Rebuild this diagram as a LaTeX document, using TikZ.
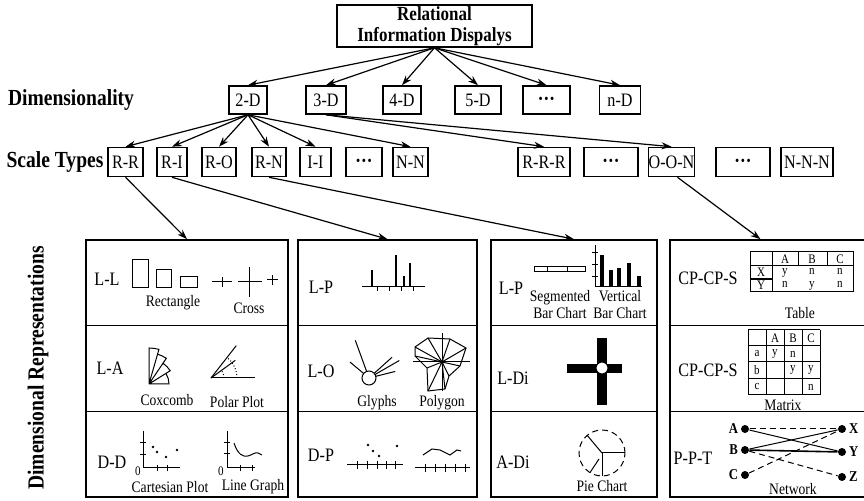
\documentclass[tikz,border=0pt]{standalone}
\usepackage{fontspec}
\setmainfont{Liberation Serif}[FakeStretch=0.85]
\usetikzlibrary{calc}
\usetikzlibrary{arrows.meta}

\newcommand{\boxwidth}{0.8pt}
\newcommand{\linkwidth}{0.6pt}
\newcommand{\sketchwidth}{0.5pt}
\newcommand{\moredots}{{\fontsize{7}{7}\selectfont\textbullet\hspace{0.8pt}\textbullet\hspace{0.8pt}\textbullet}}

\tikzset{
	levelbox/.style={draw, line width=\boxwidth, inner sep=0pt, minimum height=14pt,
		font=\fontsize{9.5}{10}\selectfont},
	headlabel/.style={font=\bfseries\fontsize{11.5}{12}\selectfont},
	kindlabel/.style={font=\fontsize{9.5}{10}\selectfont},
	caption/.style={font=\fontsize{8}{8.5}\selectfont, align=center},
	tiny/.style={font=\fontsize{6.5}{6.5}\selectfont, inner sep=0pt},
	reprbox/.style={draw, line width=\boxwidth, inner sep=0pt, minimum height=128.5pt},
	link/.style={line width=\linkwidth, -{Stealth[length=5pt,width=3.5pt]}},
	netdot/.style={circle, fill, inner sep=0pt, minimum size=4pt},
	netlabel/.style={font=\bfseries\fontsize{7.5}{8}\selectfont, inner sep=1pt},
}

\begin{document}
\begin{tikzpicture}[x=0.5pt, y=-0.5pt, line width=\sketchwidth]
	\useasboundingbox (0,0) rectangle (864,501);

	% hierarchy
	\node[draw, line width=\boxwidth, align=center, minimum width=97.5pt, minimum height=21pt,
		inner sep=0pt, font=\bfseries\fontsize{10}{10.5}\selectfont]
		(root) at (434.5,26) {Relational\\Information Dispalys};

	\node[headlabel] (dimlabel) at (71,100) {Dimensionality};
	\node[levelbox, minimum width=19pt] (d2) at (248,100) {2-D};
	\node[levelbox, minimum width=20pt] (d3) at (326,100) {3-D};
	\node[levelbox, minimum width=19pt] (d4) at (402,100) {4-D};
	\node[levelbox, minimum width=23pt] (d5) at (478,100) {5-D};
	\node[levelbox, minimum width=23.5pt] (ddots) at (546.5,100) {\moredots};
	\node[levelbox, minimum width=20.5pt] (dn) at (620,100) {n-D};

	\foreach \d in {d2,d3,d4,d5,ddots,dn}
		\draw[link] (root.south) -- (\d.north);

	\node[headlabel] (scalelabel) at (55,162) {Scale Types};
	\tikzset{levelbox/.append style={minimum height=14.5pt}}
	\node[levelbox, minimum width=17.5pt] (srr) at (125.5,162) {R-R};
	\node[levelbox, minimum width=15pt] (sri) at (172,162) {R-I};
	\node[levelbox, minimum width=17pt] (sro) at (219,162) {R-O};
	\node[levelbox, minimum width=17pt] (srn) at (269,162) {R-N};
	\node[levelbox, minimum width=15.5pt] (sii) at (315.5,162) {I-I};
	\node[levelbox, minimum width=18pt] (sdots) at (364,162) {\moredots};
	\node[levelbox, minimum width=17.5pt] (snn) at (410.5,162) {N-N};
	\node[levelbox, minimum width=26pt] (srrr) at (544,162) {R-R-R};
	\node[levelbox, minimum width=27pt] (sdotsb) at (611,162) {\moredots};
	\node[levelbox, minimum width=21.5pt] (soon) at (671.5,162) {O-O-N};
	\node[levelbox, minimum width=27pt] (sdotsc) at (743,162) {\moredots};
	\node[levelbox, minimum width=26pt] (snnn) at (807,162) {N-N-N};

	\foreach \s in {srr,sri,sro,srn,sii,snn}
		\draw[link] (d2.south) -- (\s.north);
	\draw[link] (d3.south) -- (srrr.north);
	\draw[link] (d3.south) -- (soon.north);

	% representation grid
	\node[headlabel, rotate=90] (replabel) at (38,368) {Dimensional Representations};
	\node[reprbox, minimum width=101pt] (colA) at (187,368.5) {};
	\node[reprbox, minimum width=89.5pt] (colB) at (387.5,368.5) {};
	\node[reprbox, minimum width=83pt] (colC) at (574,368.5) {};
	\node[reprbox, minimum width=98.5pt] (colD) at (768.5,368.5) {};
	\foreach \c in {colA,colB,colC,colD}
		\foreach \f in {1/3,2/3}
			\draw[line width=\boxwidth] ($(\c.north west)!\f!(\c.south west)$) -- ($(\c.north east)!\f!(\c.south east)$);

	\draw[link] (srr.south) -- (colA.north);
	\draw[link] (sri.south) -- (colB.north);
	\draw[link] (srn.south) -- (colC.north);
	\draw[link] ([xshift=3pt]soon.south) -- ([xshift=-4pt]colD.north);

	% column A
	\node[kindlabel] (ll) at (107,279) {L-L};
	\draw (132,260) rectangle (148,288);
	\draw (156,270) rectangle (171,288);
	\draw (180,277) rectangle (197,288);
	\node[caption] (rectcap) at (173,303) {Rectangle};
	\draw (212,282) -- (232,282) (222,277) -- (222,287);
	\draw (238,282) -- (262,282) (249,267) -- (249,297);
	\draw (267,280) -- (278,280) (272,275) -- (272,285);
	\node[caption] (crosscap) at (249,308) {Cross};

	\node[kindlabel] (la) at (110,368) {L-A};
	\begin{scope}[shift={(149,384)}, yscale=-1]
		\draw (0,0) -- (90:36) arc[start angle=90, end angle=74, radius=36] -- (0,0)
			-- (74:31) arc[start angle=74, end angle=56, radius=31] -- (0,0)
			-- (56:25) arc[start angle=56, end angle=32, radius=25] -- (0,0)
			-- (32:20) arc[start angle=32, end angle=0, radius=20] -- cycle;
	\end{scope}
	\node[caption] (coxcap) at (167,400) {Coxcomb};
	\begin{scope}[shift={(211,378)}, yscale=-1]
		\draw (0,0) -- (44,0);
		\draw (0,0) -- (52:41);
		\draw (0,0) -- (36:30);
		\draw[densely dotted] (26,0) arc[start angle=0, end angle=52, radius=26];
		\draw[densely dotted] (13,0) arc[start angle=0, end angle=36, radius=13];
	\end{scope}
	\node[caption] (polarcap) at (237,402) {Polar Plot};

	\node[kindlabel] (dd) at (112,462) {D-D};
	\draw (143,431) -- (143,468) -- (180,468);
	\foreach \y in {443,455} \draw (140,\y) -- (146,\y);
	\foreach \x in {157,167} \draw (\x,465) -- (\x,471);
	\foreach \p in {(153,447),(157,452),(166,457),(177,450)} \fill \p circle (1.3);
	\node[tiny] (zeroa) at (138,471) {0};
	\node[caption] (cartcap) at (170,487) {Cartesian Plot};
	\draw (227,431) -- (227,468) -- (255,468);
	\foreach \y in {443,454} \draw (224,\y) -- (230,\y);
	\foreach \x in {240,252} \draw (\x,465) -- (\x,471);
	\draw (234,443) .. controls (238,455) and (243,457) .. (248,456)
		.. controls (252,455) and (255,452) .. (258,453) -- (262,455);
	\node[tiny] (zerob) at (221,471) {0};
	\node[caption] (linecap) at (253,487) {Line Graph};

	% column B
	\node[kindlabel] (lpa) at (321,287) {L-P};
	\draw (362,287) -- (425,287);
	\foreach \x in {377,389,401,413} \draw (\x,287) -- (\x,291);
	\foreach \x/\t in {372/270,396/255,404/276,410/263} \draw[line width=1pt] (\x,287) -- (\x,\t);

	\node[kindlabel] (lo) at (321,371) {L-O};
	\begin{scope}[shift={(369,378)}, yscale=-1]
		\draw (0,0) circle (7);
		\foreach \a/\l in {110/40,140/25,42/31,30/35,14/27} \draw (\a:7) -- (\a:\l);
	\end{scope}
	\node[caption] (glyphcap) at (377,403) {Glyphs};
	\draw (415,347) -- (428,338) -- (450,339) -- (466,348) -- (460,366) -- (449,376)
		-- (445,389) -- (428,391) -- (427,368) -- (415,356) -- cycle;
	\foreach \p in {(415,347),(428,338),(450,339),(466,348),(460,366),(449,376),(445,389),(428,391),(427,368),(415,356)}
		\draw (442,362) -- \p;
	\draw (413,362) -- (470,362) (442,333) -- (442,391);
	\fill (442,362) circle (2);
	\node[caption] (polycap) at (442,403) {Polygon};

	\node[kindlabel] (dp) at (321,455) {D-P};
	\draw (347,465) -- (403,465);
	\foreach \x in {357,367,377,386,395} \draw (\x,461) -- (\x,469);
	\foreach \p in {(368,445),(373,451),(379,456),(397,446)} \fill \p circle (1.3);
	\draw (415,468) -- (470,468);
	\foreach \x in {425,435,445,455,465} \draw (\x,464) -- (\x,472);
	\draw (423,455) -- (432,449) -- (440,450) -- (450,455) -- (457,450) -- (461,451);

	% column C
	\node[kindlabel] (lpb) at (511,288) {L-P};
	\draw (534,267) rectangle (585,272);
	\draw (547,267) -- (547,272) (567,267) -- (567,272);
	\node[caption] (segcap) at (560,305) {Segmented\\Bar Chart};
	\draw (595,245) -- (595,287) -- (642,287);
	\foreach \y in {253,265,277} \draw (592,\y) -- (598,\y);
	\foreach \x/\t in {602/255,611/270,619/268,629/263,639/276} \fill (\x-2,287) rectangle (\x+2,\t);
	\node[caption] (vertcap) at (620,305) {Vertical\\Bar Chart};

	\node[kindlabel] (ldi) at (513,378) {L-Di};
	\fill (567,364) rectangle (622,373);
	\fill (597,338) rectangle (607,405);
	\filldraw[fill=white] (602,368) circle (6);

	\node[kindlabel] (adi) at (513,462) {A-Di};
	\begin{scope}[shift={(602,453)}, yscale=-1]
		\draw[densely dashed] (0,0) circle (23);
		\foreach \a in {0,130,270} \draw (0,0) -- (\a:23);
		\draw (-3,-6) -- (-12,-19.6);
	\end{scope}
	\node[caption] (piecap) at (602,486) {Pie Chart};

	% column D
	\node[kindlabel] (cpa) at (708,278) {CP-CP-S};
	\draw (750,252) rectangle (853,292);
	\draw (772,252) -- (772,292) (798,252) -- (798,266) (827,252) -- (827,266);
	\draw (750,266) -- (853,266);
	\draw[line width=1pt] (750,279) -- (772,279);
	\foreach \x/\t in {785/A,812/B,840/C} \node[tiny] at (\x,259) {\t};
	\node[tiny] at (761,272.5) {X};
	\node[tiny] at (761,285.5) {Y};
	\foreach \x/\t in {785/y,812/n,840/n} \node[tiny, anchor=base] at (\x,275) {\t};
	\foreach \x/\t in {785/n,812/y,840/n} \node[tiny, anchor=base] at (\x,288) {\t};
	\node[caption] (tablecap) at (800,313) {Table};

	\node[kindlabel] (cpb) at (708,370) {CP-CP-S};
	\foreach \x in {748,766,784,802,820} \draw (\x,330) -- (\x,395);
	\foreach \y in {330,346,362,379,395} \draw (748,\y) -- (820,\y);
	\foreach \x/\t in {775/A,793/B,811/C} \node[tiny] at (\x,338) {\t};
	\foreach \x/\t in {757/a,775/y,793/n} \node[tiny] at (\x,354) {\t};
	\foreach \x/\t in {757/b,793/y,811/y} \node[tiny] at (\x,370) {\t};
	\foreach \x/\t in {757/c,811/n} \node[tiny] at (\x,387) {\t};
	\node[caption] (matrixcap) at (783,405) {Matrix};

	\node[kindlabel] (ppt) at (693,458) {P-P-T};
	\node[netdot, label={[netlabel]left:A}] (netA) at (745,429) {};
	\node[netdot, label={[netlabel]left:B}] (netB) at (745,450) {};
	\node[netdot, label={[netlabel]left:C}] (netC) at (745,475) {};
	\node[netdot, label={[netlabel]right:X}] (netX) at (842,429) {};
	\node[netdot, label={[netlabel]right:Y}] (netY) at (842,452) {};
	\node[netdot, label={[netlabel]right:Z}] (netZ) at (842,477) {};
	\draw[densely dashed] (netA) -- (netX);
	\draw (netA) -- (netY);
	\draw (netB) -- (netX);
	\draw[line width=0.8pt] (netB) -- (netY);
	\draw[densely dashed] (netB) -- (netZ);
	\draw[densely dashed] (netC) -- (netX);
	\node[caption] (netcap) at (793,489) {Network};
\end{tikzpicture}
\end{document}
